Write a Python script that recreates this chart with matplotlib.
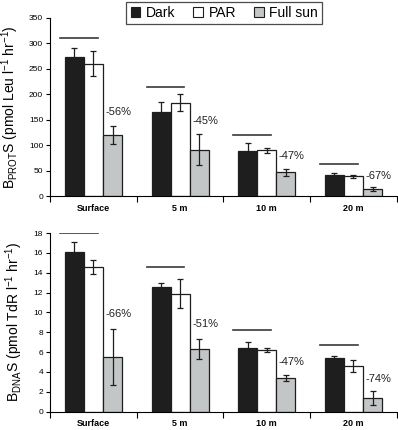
import numpy as np
import matplotlib
matplotlib.use("Agg")
import matplotlib.pyplot as plt
from matplotlib.patches import Patch

plt.rcParams['font.family'] = ['Liberation Sans', 'DejaVu Sans']

depths = ["Surface", "5 m", "10 m", "20 m"]
treatments = ["Dark", "PAR", "Full sun"]
colors = ["#1e1e1e", "#ffffff", "#c2c6c6"]

# bacterial protein synthesis (Leu)
prot_dark = [273, 165, 88, 42]
prot_dark_err = [17, 20, 17, 3]
prot_par = [260, 183, 90, 39]
prot_par_err = [25, 17, 5, 3]
prot_sun = [120, 91, 47, 14]
prot_sun_err = [17, 31, 7, 4]
prot_line = [310, 214, 120, 62]
prot_pct = ["-56%", "-45%", "-47%", "-67%"]
prot_pct_y = [165, 147, 78, 40]

# bacterial DNA synthesis (TdR)
dna_dark = [16.1, 12.6, 6.4, 5.4]
dna_dark_err = [1.0, 0.35, 0.65, 0.15]
dna_par = [14.6, 11.9, 6.2, 4.6]
dna_par_err = [0.7, 1.45, 0.2, 0.6]
dna_sun = [5.5, 6.3, 3.4, 1.4]
dna_sun_err = [2.85, 1.0, 0.3, 0.7]
dna_line = [18.0, 14.6, 8.2, 6.7]
dna_pct = ["-66%", "-51%", "-47%", "-74%"]
dna_pct_y = [9.8, 8.8, 5.0, 3.3]

fig = plt.figure(figsize=(3.98, 4.30), dpi=100)
ax1 = fig.add_axes([0.126, 0.544, 0.871, 0.415])
ax2 = fig.add_axes([0.126, 0.043, 0.871, 0.415])

x = np.arange(len(depths))
w = 0.22


def draw(ax, vals, errs, line, pct, pct_y, ymax, step, ylabel):
    for k in range(3):
        ax.bar(x + (k - 1) * w, vals[k], w, color=colors[k], edgecolor="#1e1e1e",
               linewidth=0.9, yerr=errs[k], capsize=2.5,
               error_kw=dict(elinewidth=0.9, capthick=0.9, ecolor="#1e1e1e"), zorder=2)
    for i in range(len(depths)):
        ax.plot([i - 0.385, i + 0.05], [line[i], line[i]], color="#3a3a3a", lw=1.2)
        ax.text(i + 0.14, pct_y[i], pct[i], fontsize=8, ha="left", va="center", color="#222222")
    ax.set_xlim(-0.5, 3.5)
    ax.set_ylim(0, ymax)
    ax.set_yticks(np.arange(0, ymax + step / 2, step))
    ax.set_xticks(x)
    ax.set_xticklabels(depths, fontsize=6.5, fontweight="bold")
    ax.set_xticks(np.arange(-0.5, 4, 1), minor=True)
    ax.tick_params(axis="x", which="major", length=0, pad=5.5)
    ax.tick_params(axis="x", which="minor", length=4, width=0.8)
    ax.tick_params(axis="y", labelsize=6, length=3, width=0.8, pad=2)
    for s in ["top", "right"]:
        ax.spines[s].set_visible(False)
    for s in ["left", "bottom"]:
        ax.spines[s].set_linewidth(0.8)
    ax.set_ylabel(ylabel, fontsize=10, labelpad=6)


draw(ax1, [prot_dark, prot_par, prot_sun], [prot_dark_err, prot_par_err, prot_sun_err],
     prot_line, prot_pct, prot_pct_y, 350, 50,
     r"B$\mathregular{_{PROT}}$S (pmol Leu l$\mathregular{^{-1}}$ hr$\mathregular{^{-1}}$)")
draw(ax2, [dna_dark, dna_par, dna_sun], [dna_dark_err, dna_par_err, dna_sun_err],
     dna_line, dna_pct, dna_pct_y, 18, 2,
     r"B$\mathregular{_{DNA}}$S (pmol TdR l$\mathregular{^{-1}}$ hr$\mathregular{^{-1}}$)")

handles = [Patch(facecolor=c, edgecolor="#1e1e1e", linewidth=0.8) for c in colors]
leg = fig.legend(handles, treatments, loc="upper left", bbox_to_anchor=(0.300, 1.012),
                 ncol=3, fontsize=10, frameon=True, fancybox=False, handlelength=0.7,
                 handleheight=0.7, handletextpad=0.4, columnspacing=1.3,
                 borderpad=0.3, edgecolor="#1e1e1e")
leg.get_frame().set_linewidth(0.9)

fig.savefig("out.png", dpi=100)
